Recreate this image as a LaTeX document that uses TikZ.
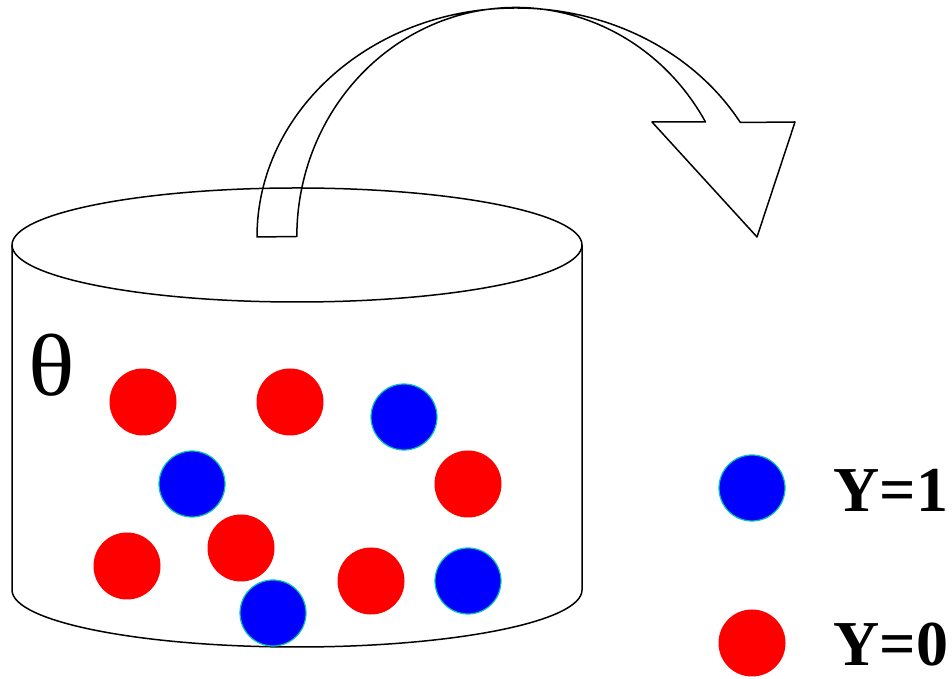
\documentclass[tikz,border=0pt]{standalone}
\usepackage{fontspec}
\setmainfont{Liberation Serif}
\definecolor{ballred}{RGB}{255,0,0}
\definecolor{ballblue}{RGB}{0,0,255}
\definecolor{balledge}{RGB}{0,200,170}
\begin{document}
\begin{tikzpicture}[x=1pt,y=1pt,
  outline/.style={draw=black,line width=1.5pt,line join=round},
  redball/.style={circle,fill=ballred,minimum size=67pt,inner sep=0pt},
  blueball/.style={circle,fill=ballblue,draw=balledge,line width=1.2pt,minimum size=66pt,inner sep=0pt},
  label/.style={font=\fontsize{64}{70}\selectfont\bfseries,anchor=center}]
\useasboundingbox (0,0) rectangle (952,679);
% cylinder
\draw[outline] (12,434) -- (12,89) arc[start angle=180,end angle=360,x radius=285,y radius=57] -- (582,434);
\draw[outline] (297,434) ellipse[x radius=285,y radius=57];
% curved arrow
\draw[outline] (257,442) arc[start angle=180,end angle=30,x radius=259,y radius=229]
  -- (795,557) -- (757,442) -- (652,557) -- (705.5,557)
  arc[start angle=30,end angle=180,x radius=219,y radius=229] -- cycle;
% theta
\node[font=\fontsize{88}{96}\selectfont,xscale=1.1] (theta) at (52,314) {θ};
% balls in the pot
\node[redball] (r1) at (143,277) {};
\node[redball] (r2) at (290,277) {};
\node[blueball] (b1) at (404,262) {};
\node[redball] (r3) at (468,195) {};
\node[blueball] (b2) at (192,195) {};
\node[redball] (r4) at (127,113) {};
\node[redball] (r5) at (241,131) {};
\node[redball] (r6) at (371,98) {};
\node[blueball] (b3) at (468,98) {};
\node[blueball] (b4) at (273,66) {};
% legend
\node[blueball] (lb) at (752,191) {};
\node[redball] (lr) at (752,36) {};
\node[label] (ly1) at (891,189) {Y=1};
\node[label] (ly0) at (891,34) {Y=0};
\end{tikzpicture}
\end{document}
